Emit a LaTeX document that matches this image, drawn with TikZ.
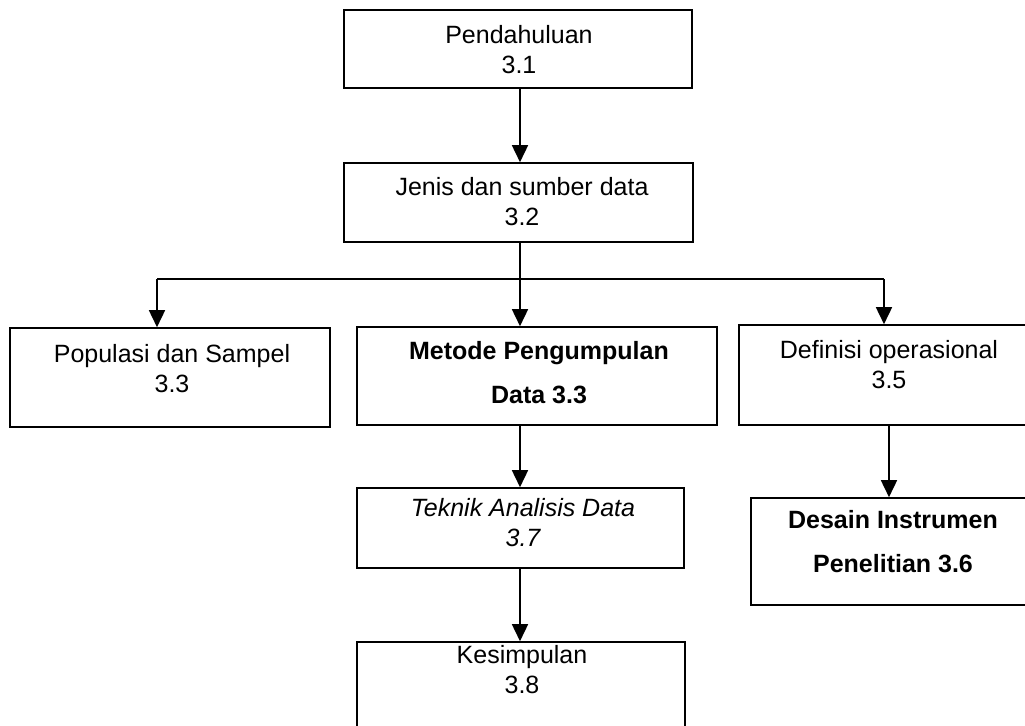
\documentclass[tikz,border=0pt]{standalone}
\usepackage{fontspec}
\setmainfont{Liberation Sans}
\usetikzlibrary{arrows.meta,fit}
\begin{document}
\begin{tikzpicture}[x=0.5pt,y=-0.5pt,
    box/.style={draw,line width=0.8pt,inner sep=0pt},
    txt/.style={anchor=base,align=center,inner sep=0pt,font=\fontsize{12.5}{15}\selectfont},
    btxt/.style={anchor=base,align=center,inner sep=0pt,font=\fontsize{12.5}{22}\selectfont\bfseries},
    >={Triangle[length=8.5pt,width=8pt]},line width=0.8pt]
    \useasboundingbox (0,0) rectangle (1025,725);
    \node[box,fit={(344,10) (692,88)}] (pend) {};
    \node[box,fit={(344,163) (693,242)}] (jenis) {};
    \node[box,fit={(10,328) (330,427)}] (pop) {};
    \node[box,fit={(357,327) (717,425)}] (metode) {};
    \node[box,fit={(739,325) (1040,425)}] (defin) {};
    \node[box,fit={(357,488) (684,568)}] (teknik) {};
    \node[box,fit={(751,498) (1036,605)}] (desain) {};
    \node[box,fit={(357,642) (685,760)}] (kesim) {};
    \node[txt] (pendt) at (519,73) {Pendahuluan\\3.1};
    \node[txt] (jenist) at (522,225) {Jenis dan sumber data\\3.2};
    \node[txt] (popt) at (172,392) {Populasi dan Sampel\\3.3};
    \node[btxt] (metodet) at (539,403) {Metode Pengumpulan\\Data 3.3};
    \node[txt] (defint) at (889,388) {Definisi operasional\\3.5};
    \node[txt,font=\fontsize{12.5}{15}\selectfont\itshape] (teknikt) at (523,546) {Teknik Analisis Data\\3.7};
    \node[btxt] (desaint) at (893,572) {Desain Instrumen\\Penelitian 3.6};
    \node[txt] (kesimt) at (522,693) {Kesimpulan\\3.8};
    \coordinate (busl) at (157,279);
    \coordinate (busr) at (884,279);
    \draw[->] (pend.south -| 520,0) -- (jenis.north -| 520,0);
    \draw (busl) -- (busr);
    \draw[->] (jenis.south -| 520,0) -- (metode.north -| 520,0);
    \draw[->] (busl) -- (busl |- pop.north);
    \draw[->] (busr) -- (busr |- defin.north);
    \draw[->] (metode.south -| 520,0) -- (teknik.north -| 520,0);
    \draw[->] (teknik.south -| 520,0) -- (kesim.north -| 520,0);
    \draw[->] (defin.south -| 889,0) -- (desain.north -| 889,0);
\end{tikzpicture}
\end{document}
